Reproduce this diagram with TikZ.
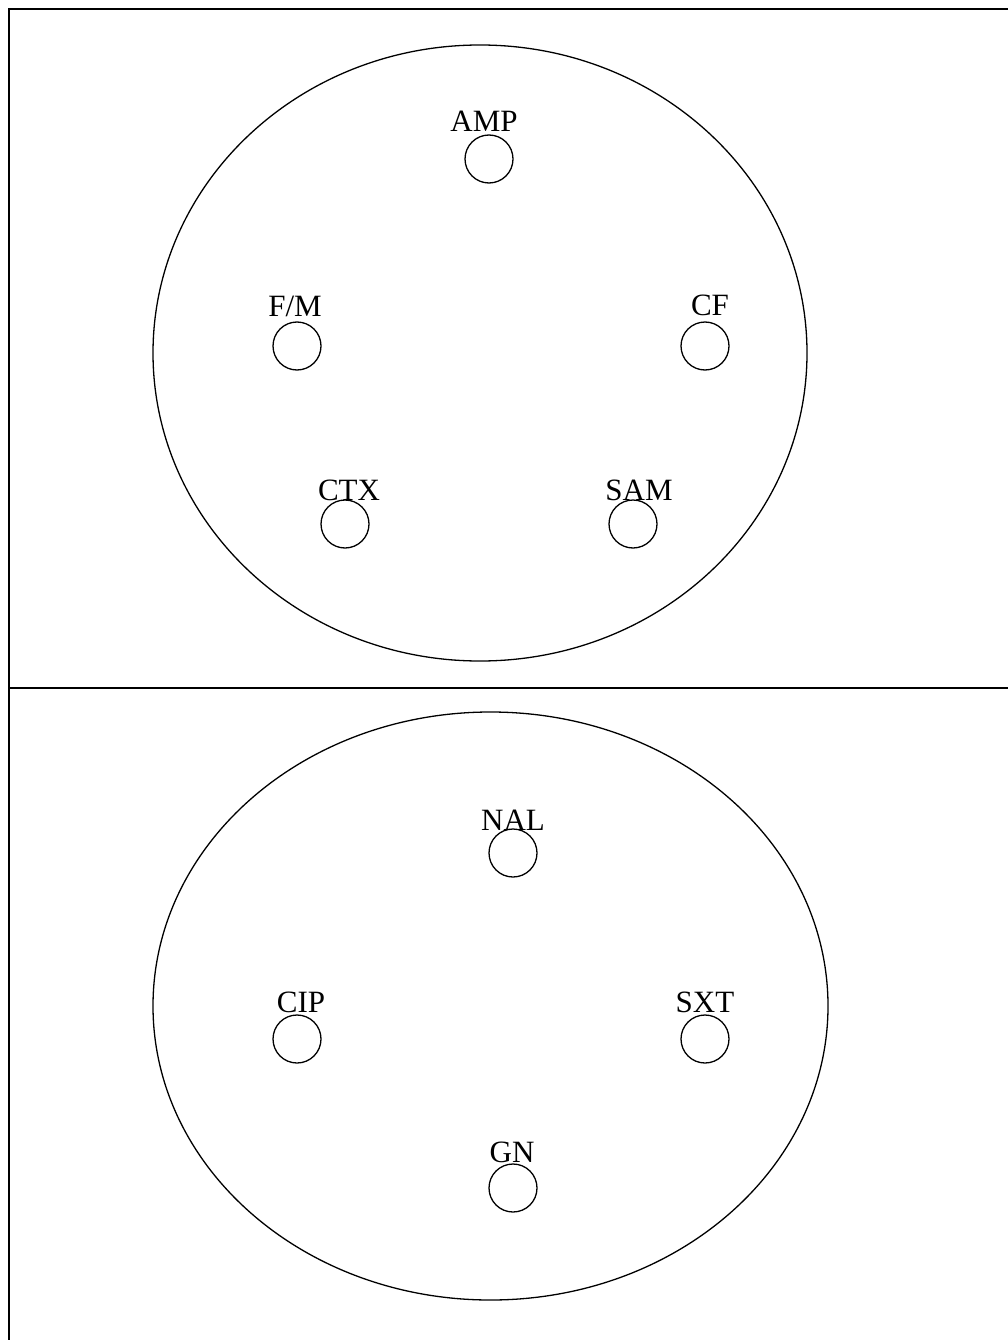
\documentclass[tikz,border=0pt]{standalone}
\usepackage{fontspec}
\setmainfont{Liberation Serif}
\begin{document}
\begin{tikzpicture}[x=1pt,y=-1pt,line width=1.3pt,
  disk/.style={draw,circle,minimum size=48pt,inner sep=0pt},
  lbl/.style={font=\fontsize{31}{31}\selectfont,anchor=base,inner sep=0pt}]
\useasboundingbox (0,0) rectangle (1007,1340);
\draw (1010,9) -- (9,9) -- (9,1345);
\draw (9,688) -- (1010,688);
\draw (480,353) ellipse [x radius=327, y radius=308];
\draw (490.5,1006) ellipse [x radius=337.5, y radius=294];
\foreach \n/\x/\y/\dx/\dy/\t in {amp/489/159/-5/-27/AMP, fm/297/346/-2/-30/F\slash M, cf/705/346/5/-31/CF, ctx/345/524/4/-24/CTX, sam/633/524/6/-24/SAM, nal/513/853/0/-23/NAL, cip/297/1039/4/-27/CIP, sxt/705/1039/0/-27/SXT, gn/513/1188/-1/-26/GN}{
  \node[disk] (\n) at (\x,\y) {};
  \node[lbl] (\n-l) at (\x+\dx,\y+\dy) {\t};
}
\end{tikzpicture}
\end{document}
